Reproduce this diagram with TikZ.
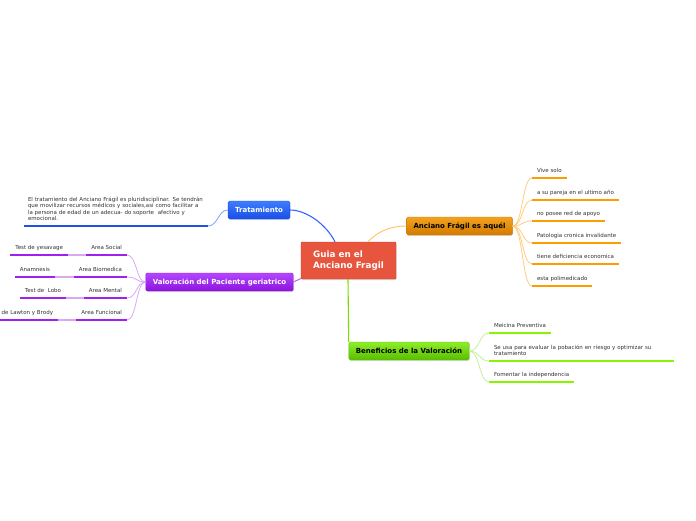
\documentclass[tikz,border=0pt]{standalone}
\usepackage{fontspec}
\setmainfont{DejaVu Sans}
\usetikzlibrary{shadows}
\definecolor{txt}{HTML}{333333}
\definecolor{cfill}{HTML}{E8553E}
\definecolor{cdraw}{HTML}{C9432E}
\definecolor{bltop}{HTML}{3F7DFF}
\definecolor{blbot}{HTML}{1A4EE6}
\definecolor{ortop}{HTML}{F2A21E}
\definecolor{orbot}{HTML}{D27A00}
\definecolor{putop}{HTML}{B447FF}
\definecolor{pubot}{HTML}{8C12DC}
\definecolor{grtop}{HTML}{8EEE2A}
\definecolor{grbot}{HTML}{58BE00}
\definecolor{blline}{HTML}{1F50E8}
\definecolor{orline}{HTML}{FF9C00}
\definecolor{puline}{HTML}{A020F0}
\definecolor{grline}{HTML}{88F500}
\definecolor{blconn}{HTML}{3366FF}
\definecolor{blsoft}{HTML}{7FA2FF}
\definecolor{orsoft}{HTML}{FFCC80}
\definecolor{pusoft}{HTML}{D9A8F2}
\definecolor{grsoft}{HTML}{C4F29A}
\tikzset{
  mainbox/.style={rounded corners=1.5pt, minimum height=18pt, inner xsep=7pt,
    font=\fontsize{7}{8}\selectfont\bfseries,
    drop shadow={shadow xshift=0.6pt, shadow yshift=-1pt, opacity=0.25}},
  leaf/.style={font=\fontsize{5.5}{6.6}\selectfont, text=txt, inner xsep=5pt,
    inner ysep=4.6pt, text height=4.2pt, text depth=1.2pt, outer sep=0pt},
  leafm/.style={font=\fontsize{5.5}{6.4}\selectfont, text=txt, align=left,
    inner ysep=5.5pt, outer sep=0pt},
  ulb/.style={line width=2.5pt, blline},
  ulo/.style={line width=2.5pt, orline},
  ulp/.style={line width=2.5pt, puline},
  ulg/.style={line width=2.5pt, grline},
}
\begin{document}
\begin{tikzpicture}[x=1pt,y=-1pt]
\useasboundingbox[fill=white] (0,0) rectangle (696,520);

% central
\node[rounded corners=1pt, fill=cfill, draw=cdraw, line width=0.4pt,
  minimum width=95pt, minimum height=37pt, align=left, text=white,
  font=\fontsize{8.8}{11}\selectfont\bfseries,
  drop shadow={shadow xshift=0.6pt, shadow yshift=-1pt, opacity=0.25}]
  (c) at (348.5,260.5) {Guia en el\\Anciano Fragil};

% main branches
\node[mainbox, top color=bltop, bottom color=blbot, draw=blbot, text=white] (tr) at (259,210) {Tratamiento};
\node[mainbox, top color=ortop, bottom color=orbot, draw=orbot, text=black] (an) at (459.5,226) {Anciano Frágil es aquél};
\node[mainbox, top color=putop, bottom color=pubot, draw=pubot, text=white] (va) at (219.5,282) {Valoración del Paciente geriatrico};
\node[mainbox, top color=grtop, bottom color=grbot, draw=grbot, text=black] (be) at (409,351) {Beneficios de la Valoración};

% central connectors
\draw[blconn, line width=1.1pt] ([xshift=-13.5pt]c.north) .. controls (326,224) and (306,210) .. (tr.east);
\draw[orsoft!80!orline, line width=0.9pt] ([xshift=19.5pt]c.north) .. controls (380,229) and (394,226) .. (an.west);
\draw[puline!70, line width=1pt] ([yshift=-18pt]c.west) -- (va.east);
\draw[grline!90!black, line width=1.1pt] ([xshift=-0.5pt]c.south) -- (be.north west);

% Tratamiento leaf
\node[leafm, text width=176pt, inner xsep=4pt, anchor=south west] (p1) at (24,226)
  {El tratamiento del Anciano Frágil es pluridisciplinar. Se tendrán\\
   que movilizar recursos médicos y sociales,así como facilitar a\\
   la persona de edad de un adecua- do soporte\ \ afectivo y\\
   emocional.};
\draw[ulb] (p1.south west) -- (p1.south east);
\draw[blsoft, line width=0.8pt] (tr.west) .. controls (218,210) and (218,226) .. (p1.south east);

% Anciano leaves
\node[leaf, anchor=south west] (o1) at (532,178) {Vive solo};
\node[leaf, anchor=south west] (o2) at (532,200) {a su pareja en el ultimo año};
\node[leaf, anchor=south west] (o3) at (532,221) {no posee red de apoyo};
\node[leaf, anchor=south west] (o4) at (532,243) {Patologia cronica invalidante};
\node[leaf, anchor=south west] (o5) at (532,264) {tiene deficiencia economica};
\node[leaf, anchor=south west] (o6) at (532,286) {esta polimedicado};
\foreach \n in {o1,o2,o3,o4,o5,o6}{
  \draw[orsoft, line width=0.8pt] (an.east) .. controls (523,226) and (522,0|-\n.south west) .. (\n.south west);
  \draw[ulo] (\n.south west) -- (\n.south east);
}

% Valoracion leaves
\node[leaf, anchor=south east] (v1) at (127,255) {Area Social};
\node[leaf, anchor=south east] (v2) at (127,277) {Area Biomedica};
\node[leaf, anchor=south east] (v3) at (127,298) {Area Mental};
\node[leaf, anchor=south east] (v4) at (127,320) {Area Funcional};
\node[leaf, anchor=south east] (g1) at (68,255) {Test de yesavage};
\node[leaf, anchor=south east] (g2) at (55,277) {Anamnesis};
\node[leaf, anchor=south east] (g3) at (66,298) {Test de\ \ Lobo};
\node[leaf, anchor=south east] (g4) at (58,320) {de Lawton y Brody};
\foreach \n/\g in {v1/g1,v2/g2,v3/g3,v4/g4}{
  \draw[pusoft, line width=0.8pt] (va.west) .. controls (136,282) and (137,0|-\n.south east) .. (\n.south east);
  \draw[pusoft, line width=1.6pt] (\g.south east) -- (\n.south west);
  \draw[ulp] (\n.south west) -- (\n.south east);
  \draw[ulp] (\g.south west) -- (\g.south east);
}

% Beneficios leaves
\node[leaf, anchor=south west] (b1) at (489,333) {Meicina Preventiva};
\node[leafm, text width=175pt, inner xsep=5pt, anchor=south west] (b2) at (489,361)
  {Se usa para evaluar la pobación en riesgo y optimizar su\\tratamiento};
\node[leaf, anchor=south west] (b3) at (489,382) {Fomentar la independencia};
\foreach \n in {b1,b2,b3}{
  \draw[grsoft, line width=0.8pt] (be.east) .. controls (480,351) and (479,0|-\n.south west) .. (\n.south west);
  \draw[ulg] (\n.south west) -- (\n.south east);
}
\end{tikzpicture}
\end{document}
